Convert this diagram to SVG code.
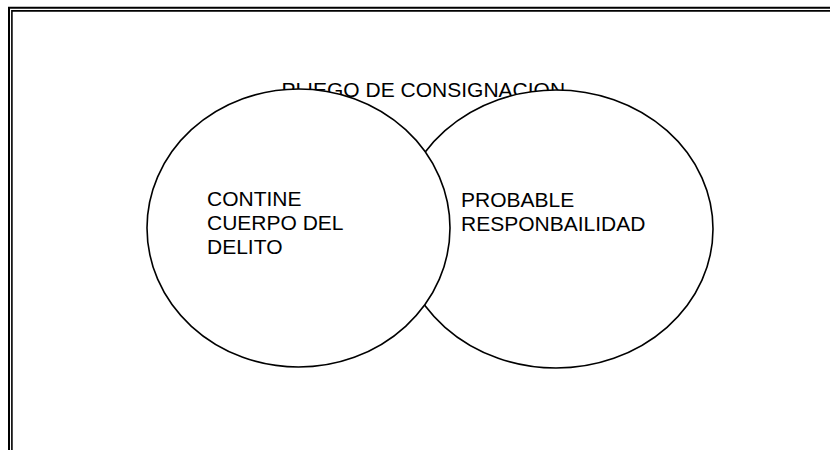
<svg xmlns="http://www.w3.org/2000/svg" width="830" height="450" viewBox="0 0 830 450">
<style>
.t{font-family:"Liberation Sans",Arial,sans-serif;font-size:21px;fill:#000}
.c{fill:#fff;stroke:#000;stroke-width:1.6}
.b{stroke:#000;fill:none}
</style>
<rect width="830" height="450" fill="#fff"/>
<g id="frame">
<path class="b" stroke-width="2" d="M9,450 V7.7 H830"/>
<path class="b" stroke-width="1.6" d="M11.9,450 V10.9 H830"/>
</g>
<g id="title"><text class="t" x="281.5" y="96.5">PLIEGO DE CONSIGNACION</text></g>
<g id="responsabilidad">
<ellipse class="c" cx="556" cy="229" rx="157" ry="139"/>
<text class="t" x="461" y="206.5">PROBABLE</text>
<text class="t" x="461" y="230.5">RESPONBAILIDAD</text>
</g>
<g id="cuerpo">
<ellipse class="c" cx="298.5" cy="228" rx="151.5" ry="139"/>
<text class="t" x="207" y="205.5">CONTINE</text>
<text class="t" x="207" y="229.5">CUERPO DEL</text>
<text class="t" x="207" y="253.5">DELITO</text>
</g>
<g id="connectors"/>
</svg>
